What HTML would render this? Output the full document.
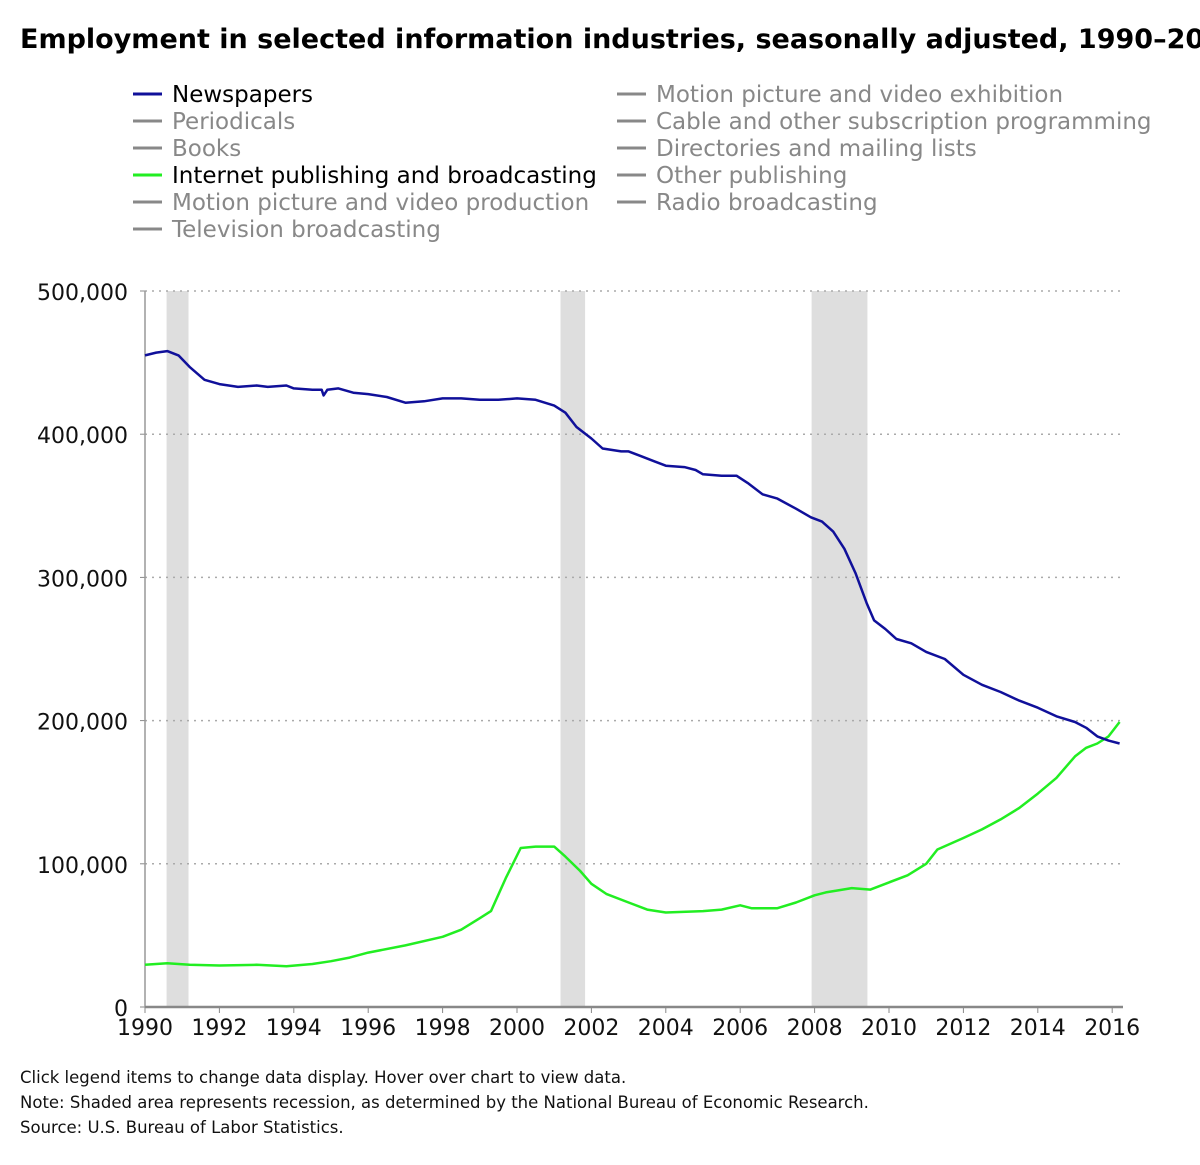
<!DOCTYPE html>
<html><head><meta charset="utf-8"><style>
body{margin:0;background:#fff;width:1200px;height:1161px;overflow:hidden;font-family:"DejaVu Sans","Liberation Sans",sans-serif}
svg text{font-family:"DejaVu Sans","Liberation Sans",sans-serif}
</style></head><body>
<svg id="chart" width="1200" height="1161" xmlns="http://www.w3.org/2000/svg">
<text x="20" y="48" font-size="27" font-weight="bold" fill="#000">Employment in selected information industries, seasonally adjusted, 1990–2016</text>
<g id="legend"></g>
<g id="plot"></g>
<text x="20" y="1083" font-size="16.5" fill="#111">Click legend items to change data display. Hover over chart to view data.</text>
<text x="20" y="1108" font-size="16.5" fill="#111">Note: Shaded area represents recession, as determined by the National Bureau of Economic Research.</text>
<text x="20" y="1133" font-size="16.5" fill="#111">Source: U.S. Bureau of Labor Statistics.</text>
</svg>
<script>
const legendCol1 = ["Newspapers","Periodicals","Books","Internet publishing and broadcasting","Motion picture and video production","Television broadcasting"];
const legendCol2 = ["Motion picture and video exhibition","Cable and other subscription programming","Directories and mailing lists","Other publishing","Radio broadcasting"];
const yTicks = [0,100000,200000,300000,400000,500000];
const xTicks = [1990,1992,1994,1996,1998,2000,2002,2004,2006,2008,2010,2012,2014,2016];
const recessions = [[1990.58,1991.17],[2001.17,2001.83],[2007.92,2009.42]];
const newsYears = [1990,1990.3,1990.6,1990.9,1991.2,1991.6,1992,1992.5,1993,1993.3,1993.8,1994,1994.5,1994.75,1994.8,1994.9,1995.2,1995.6,1996,1996.5,1997,1997.5,1998,1998.5,1999,1999.5,2000,2000.5,2001,2001.3,2001.6,2002,2002.3,2002.8,2003,2003.3,2003.7,2004,2004.5,2004.8,2005,2005.5,2005.9,2006.2,2006.6,2007,2007.5,2007.9,2008.2,2008.5,2008.8,2009.1,2009.4,2009.6,2009.9,2010.2,2010.6,2011,2011.5,2012,2012.5,2013,2013.5,2014,2014.5,2015,2015.3,2015.6,2015.9,2016.2];
const newsValues = [455,457,458,455,447,438,435,433,434,433,434,432,431,431,427,431,432,429,428,426,422,423,425,425,424,424,425,424,420,415,405,397,390,388,388,385,381,378,377,375,372,371,371,366,358,355,348,342,339,332,320,303,282,270,264,257,254,248,243,232,225,220,214,209,203,199,195,189,186,184];
const netYears = [1990,1990.6,1991.2,1992,1993,1993.8,1994.5,1995,1995.5,1996,1997,1998,1998.5,1999,1999.3,1999.7,2000.1,2000.5,2001,2001.3,2001.7,2002,2002.4,2003,2003.5,2004,2005,2005.5,2006,2006.3,2006.6,2007,2007.5,2008,2008.3,2009,2009.5,2010,2010.5,2011,2011.3,2012,2012.5,2013,2013.5,2014,2014.5,2015,2015.3,2015.6,2015.9,2016.2];
const netValues = [29.5,30.5,29.5,29,29.5,28.5,30,32,34.5,38,43,49,54,62,67,90,111,112,112,105,95,86,79,73,68,66,67,68,71,69,69,69,73,78,80,83,82,87,92,100,110,118,124,131,139,149,160,175,181,184,189,199];

const NS="http://www.w3.org/2000/svg";
function mk(tag,attrs,parent){const e=document.createElementNS(NS,tag);for(const k in attrs)e.setAttribute(k,attrs[k]);parent.appendChild(e);return e;}
const x0=145,x1=1121,y0=1007,yTop=291;
const xs=yr=>x0+(yr-1990)*37.2;
const ys=v=>y0-(v/500000)*(y0-yTop);

const lg=document.getElementById('legend');
function legendItem(label,col,row,color,textColor){
  const lx=col===0?133:617, ty=94+row*27;
  const g=mk('g',{},lg);
  
  
  mk('line',{x1:lx,x2:lx+29,y1:ty,y2:ty,stroke:color,'stroke-width':3},g);
  const t=mk('text',{x:lx+39,y:ty+8,'font-size':23,fill:textColor},g);t.textContent=label;
}
legendCol1.forEach((l,i)=>{
  const c=i===0?'#10109a':(i===3?'#22ee22':'#888');
  legendItem(l,0,i,c,(i===0||i===3)?'#000':'#888');
});
legendCol2.forEach((l,i)=>legendItem(l,1,i,'#888','#888'));

const p=document.getElementById('plot');
recessions.forEach(r=>{
  const e=mk('rect',{x:xs(r[0]),y:yTop,width:xs(r[1])-xs(r[0]),height:y0-yTop,fill:'#dedede'},p);
  
  
});
yTicks.forEach(v=>{
  if(v>0){const gl=mk('line',{x1:x0,x2:1125,y1:ys(v),y2:ys(v),stroke:'#aaa','stroke-width':1.5,'stroke-dasharray':'2,5'},p);
  
  }
  const t=mk('text',{x:128,y:ys(v)+9,'font-size':22,'text-anchor':'end',fill:'#111'},p);
  
  
  t.textContent=v.toLocaleString('en-US');
  mk('line',{x1:x0-5,x2:x0,y1:ys(v),y2:ys(v),stroke:'#888'},p);
});
mk('line',{x1:x0,x2:x0,y1:yTop,y2:y0,stroke:'#999','stroke-width':1.5},p);
mk('line',{x1:x0,x2:x1+2,y1:y0,y2:y0,stroke:'#888','stroke-width':2.5},p);
xTicks.forEach(yr=>{
  mk('line',{x1:xs(yr),x2:xs(yr),y1:y0,y2:y0+6,stroke:'#888'},p);
  const t=mk('text',{x:xs(yr),y:y0+28,'font-size':22,'text-anchor':'middle',fill:'#111'},p);
  
  
  t.textContent=yr;
});
function series(years,vals,color,name){
  const d=years.map((y,i)=>(i?'L':'M')+xs(y).toFixed(1)+','+ys(vals[i]*1000).toFixed(1)).join(' ');
  const e=mk('path',{d:d,fill:'none',stroke:color,'stroke-width':2.5,'stroke-linejoin':'round'},p);
  
  
}
series(netYears,netValues,'#22ee22','internet-publishing-line');
series(newsYears,newsValues,'#10109a','newspapers-line');
</script>
</body></html>
